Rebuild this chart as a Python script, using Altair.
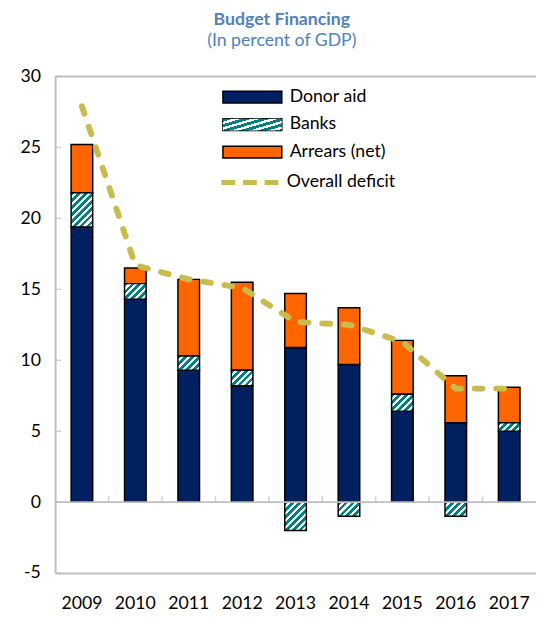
import math
import altair as alt
import pandas as pd

years = ["2009", "2010", "2011", "2012", "2013", "2014", "2015", "2016", "2017"]
donor_aid = [19.4, 14.3, 9.3, 8.2, 10.9, 9.7, 6.4, 5.6, 5.0]
banks = [2.4, 1.1, 1.0, 1.1, -2.0, -1.0, 1.2, -1.0, 0.6]
arrears = [3.4, 1.1, 5.4, 6.2, 3.8, 4.0, 3.8, 3.3, 2.5]
overall_deficit = [27.9, 16.7, 15.7, 15.1, 12.7, 12.5, 11.3, 8.0, 8.0]
y_ticks = [-5, 0, 5, 10, 15, 20, 25, 30]

series = ["Donor aid", "Banks", "Arrears (net)"]
colors = ["#002060", "#00807F", "#FF6600"]
line_name = "Overall deficit"
line_color = "#C8BC4E"
frame_color = "#BFBFBF"
font = "Lato"

PLOT_W, PLOT_H = 490, 506
Y_MIN, Y_MAX = -5, 30
BAR_W = 22.0

rows = []
for i, yr in enumerate(years):
    for k, (s, vals) in enumerate(zip(series, [donor_aid, banks, arrears])):
        rows.append({"year": yr, "series": s, "value": vals[i], "order": k})
bars_df = pd.DataFrame(rows)
line_df = pd.DataFrame({"year": years, "series": line_name, "value": overall_deficit})
ticks_df = pd.DataFrame({"v": y_ticks})
frame_df = pd.DataFrame({"v": [0, 30]})


def hatch_gradient(w, h, period=7.0, teal_frac=0.55):
    """45-degree '/' stripes for a w x h box (objectBoundingBox gradient)."""
    span = w + h
    lam = span / (w * w + h * h)
    stops = []
    n = int(math.ceil(span / period)) + 1
    for k in range(n):
        base = k * period / span
        mid = (k * period + period * teal_frac) / span
        end = (k + 1) * period / span
        for a, b, c in ((base, mid, "#00807F"), (mid, end, "#FFFFFF")):
            a, b = min(a, 1.0), min(b, 1.0)
            stops.append({"offset": round(a, 4), "color": c})
            stops.append({"offset": round(b, 4), "color": c})
    return {"gradient": "linear", "x1": 0, "y1": 0,
            "x2": round(lam * w, 4), "y2": round(lam * h, 4), "stops": stops}


px_per_unit = PLOT_H / (Y_MAX - Y_MIN)
conds = []
for yr, b in zip(years, banks):
    conds.append({"test": f"datum.year === '{yr}'",
                  "value": hatch_gradient(BAR_W, abs(b) * px_per_unit)})
bank_fill = {"condition": conds, "value": hatch_gradient(BAR_W, 15)}

legend_hatch = hatch_gradient(60, 12, period=7.5)


def grad_expr(g):
    st = ",".join("{offset:%s,color:'%s'}" % (s["offset"], s["color"]) for s in g["stops"])
    return "{gradient:'linear',x1:0,y1:0,x2:%s,y2:%s,stops:[%s]}" % (g["x2"], g["y2"], st)


x_scale = alt.Scale(domain=years, paddingInner=0.596, paddingOuter=0.3)
y_scale = alt.Scale(domain=[Y_MIN, Y_MAX], nice=False, zero=False)

x_enc = alt.X(
    "year:N", scale=x_scale, sort=None,
    axis=alt.Axis(title=None, orient="bottom", ticks=False, labelAngle=0,
                  labelFont=font, labelFontSize=18, labelColor="#000000",
                  labelPadding=22, domainColor=frame_color, domainWidth=2),
)
y_axis = alt.Axis(title=None, values=y_ticks, ticks=False, grid=False,
                  labelExpr="'' + datum.value",
                  labelFont=font, labelFontSize=18, labelColor="#000000",
                  labelPadding=15, domainColor=frame_color, domainWidth=2)

stacked = alt.Chart(bars_df).transform_stack(
    stack="value", groupby=["year"], as_=["y0", "y1"],
    sort=[alt.SortField("order", order="ascending")],
)

LEG_X, LEG_Y, ROW = 192, 12, 28
sym_rect = "M-5,-1H5V1H-5Z"

fill_legend = alt.Legend(
    title=None, orient="none", legendX=LEG_X, legendY=LEG_Y, padding=0,
    symbolType=sym_rect, symbolSize=144, symbolStrokeColor="#000000",
    symbolStrokeWidth=1.5, symbolOpacity=1, labelFont=font, labelFontSize=18,
    labelColor="#000000", labelOffset=29, rowPadding=10,
)

solid = stacked.transform_filter("datum.series !== 'Banks'").mark_bar(
    stroke="#000000", strokeWidth=1.5
).encode(
    x=x_enc,
    y=alt.Y("y0:Q", scale=y_scale, axis=y_axis),
    y2="y1:Q",
    fill=alt.Fill("series:N", scale=alt.Scale(domain=series, range=colors), legend=fill_legend),
)

hatched = stacked.transform_filter("datum.series === 'Banks'").mark_bar(
    stroke="#000000", strokeWidth=1.5
).encode(
    x=x_enc, y=alt.Y("y0:Q", scale=y_scale), y2="y1:Q",
    fill=bank_fill,
    opacity=alt.Opacity(
        "series:N", scale=alt.Scale(domain=["Banks"], range=[1]),
        legend=alt.Legend(
            title=None, orient="none", legendX=LEG_X, legendY=LEG_Y + ROW, padding=0,
            symbolType=sym_rect, symbolSize=144, symbolStrokeColor="#000000",
            symbolStrokeWidth=1.5, symbolFillColor={"expr": grad_expr(legend_hatch)},
            labelExpr="''", labelFontSize=18, zindex=2,
        ),
    ),
)

frame = alt.Chart(frame_df).mark_rule(color=frame_color, strokeWidth=2).encode(
    y=alt.Y("v:Q", scale=y_scale)
)

y_tick_marks = alt.Chart(ticks_df).mark_tick(
    orient="horizontal", size=6, thickness=1.5, color=frame_color, xOffset=3
).encode(x=alt.value(0), y=alt.Y("v:Q", scale=y_scale))

x_tick_marks = alt.Chart(line_df).transform_filter("datum.year !== '2009'").mark_tick(
    orient="vertical", size=6, thickness=1.5, color=frame_color, xOffset=-27.2, yOffset=-3
).encode(x=x_enc, y=alt.datum(0))

line = alt.Chart(line_df).mark_line(
    strokeWidth=6, strokeDash=[8, 14], strokeCap="round"
).encode(
    x=x_enc,
    y=alt.Y("value:Q", scale=y_scale),
    stroke=alt.Stroke(
        "series:N", scale=alt.Scale(domain=[line_name], range=[line_color]),
        legend=alt.Legend(
            title=None, orient="none", legendX=LEG_X - 1.5, legendY=LEG_Y + 87, padding=0,
            symbolType="M-5,0H5", symbolSize=144, symbolStrokeWidth=5,
            symbolDash=[14, 8], symbolFillColor="transparent", labelFont=font,
            labelFontSize=18, labelColor="#000000", labelOffset=27.5,
        ),
    ),
)

chart = alt.layer(solid, hatched, frame, y_tick_marks, x_tick_marks, line).properties(
    width=PLOT_W, height=PLOT_H,
    title=alt.TitleParams(
        text="Budget Financing", subtitle="(In percent of GDP)",
        font=font, fontSize=18, fontWeight="bold", color="#4F81BD",
        subtitleFont=font, subtitleFontSize=18, subtitleColor="#4F81BD",
        anchor="middle", dx=-14, subtitlePadding=3, offset=18,
    ),
    autosize=alt.AutoSizeParams(type="none"),
    padding={"left": 48, "top": 64, "right": 0, "bottom": 40},
).configure_view(stroke=None).resolve_scale(
    fill="independent", stroke="independent", opacity="independent"
)

chart.save("out.html", embed_options={"renderer": "svg", "actions": False})
